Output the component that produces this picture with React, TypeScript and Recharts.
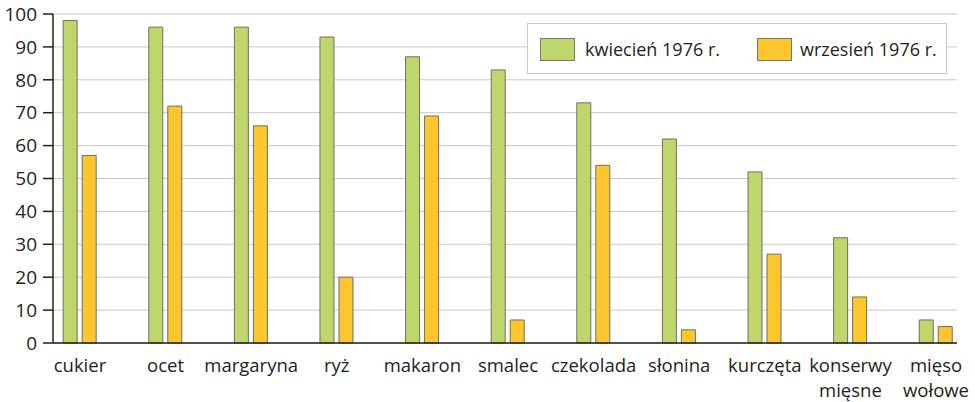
import React from "react";
import { BarChart, Bar, XAxis, YAxis, CartesianGrid, Legend } from "recharts";

const categories = [
  "cukier",
  "ocet",
  "margaryna",
  "ryż",
  "makaron",
  "smalec",
  "czekolada",
  "słonina",
  "kurczęta",
  "konserwy\nmięsne",
  "mięso\nwołowe",
];
const april1976 = [98, 96, 96, 93, 87, 83, 73, 62, 52, 32, 7];
const september1976 = [57, 72, 66, 20, 69, 7, 54, 4, 27, 14, 5];
const yTicks = [0, 10, 20, 30, 40, 50, 60, 70, 80, 90, 100];
const seriesNames = ["kwiecień 1976 r.", "wrzesień 1976 r."];

const data = categories.map((c, i) => ({
  idx: i,
  name: c,
  april: april1976[i],
  september: september1976[i],
}));

const FONT = "'Open Sans', 'Noto Sans', sans-serif";
const TEXT = "#231f20";
const GREEN = "#bfd66b";
const YELLOW = "#fcc62c";
const AXIS = "#231f20";
const GRID = "#c8c8c8";

const XTick = (props: any) => {
  const { x, y, payload } = props;
  const label = categories[payload.value] ?? "";
  const lines = label.split("\n");
  return (
    <text
      x={x}
      y={y + 29}
      textAnchor="middle"
      fill={TEXT}
      style={{ fontFamily: FONT, fontSize: 18.5 }}
    >
      {lines.map((l: string, i: number) => (
        <tspan key={i} x={x} dy={i === 0 ? 0 : 25}>
          {l}
        </tspan>
      ))}
    </text>
  );
};

const LegendBox = () => {
  const sw = (left: number, color: string) => (
    <div
      style={{
        position: "absolute",
        left,
        top: 14,
        width: 35,
        height: 23,
        background: color,
        border: "1px solid #777",
        boxSizing: "border-box",
      }}
    />
  );
  const txt = (left: number, s: string) => (
    <div
      style={{
        position: "absolute",
        left,
        top: 0,
        height: 50,
        lineHeight: "50px",
        fontFamily: FONT,
        fontSize: 18,
        color: TEXT,
        whiteSpace: "nowrap",
      }}
    >
      {s}
    </div>
  );
  return (
    <div
      style={{
        position: "relative",
        width: 420,
        height: 51,
        background: "#fff",
        border: "1px solid #c8c8c8",
        boxSizing: "border-box",
      }}
    >
      {sw(12, GREEN)}
      {txt(57, seriesNames[0])}
      {sw(229, YELLOW)}
      {txt(272, seriesNames[1])}
    </div>
  );
};

export default function App() {
  return (
    <div>
      <style>{`body{margin:0}`}</style>
      <BarChart
        width={975}
        height={402}
        data={data}
        margin={{ top: 14, right: 18, bottom: 0, left: 0 }}
        barGap={5}
      >
        <CartesianGrid vertical={false} stroke={GRID} strokeWidth={1} />
        <XAxis
          type="number"
          dataKey="idx"
          domain={[-0.315, 10.245]}
          ticks={[0, 1, 2, 3, 4, 5, 6, 7, 8, 9, 10]}
          allowDataOverflow
          interval={0}
          height={59}
          tickLine={false}
          tickSize={0}
          tickMargin={0}
          axisLine={{ stroke: AXIS, strokeWidth: 1.5 }}
          tick={<XTick />}
        />
        <YAxis
          width={53}
          domain={[0, 100]}
          ticks={yTicks}
          interval={0}
          tickSize={10}
          tickMargin={6}
          axisLine={{ stroke: AXIS, strokeWidth: 1.5 }}
          tickLine={{ stroke: AXIS, strokeWidth: 1.5 }}
          tick={{ fill: TEXT, fontSize: 19, fontFamily: FONT }}
        />
        <Legend
          layout="vertical"
          align="center"
          verticalAlign="middle"
          wrapperStyle={{ left: 527, top: 23, width: 420, height: 51 }}
          content={() => <LegendBox />}
        />
        <Bar
          dataKey="april"
          name={seriesNames[0]}
          fill={GREEN}
          stroke="#6e6e6e"
          strokeWidth={1}
          barSize={14}
          isAnimationActive={false}
        />
        <Bar
          dataKey="september"
          name={seriesNames[1]}
          fill={YELLOW}
          stroke="#6e6e6e"
          strokeWidth={1}
          barSize={14}
          isAnimationActive={false}
        />
      </BarChart>
    </div>
  );
}
